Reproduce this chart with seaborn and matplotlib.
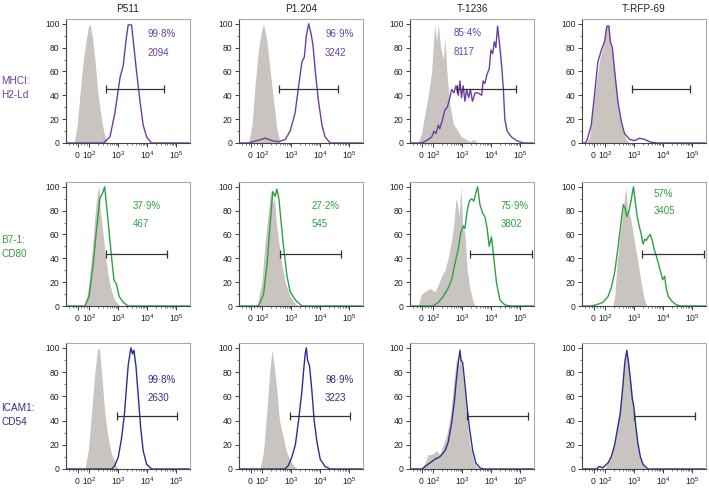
import numpy as np
import pandas as pd
import matplotlib
matplotlib.use("Agg")
import matplotlib.pyplot as plt
import matplotlib.transforms as mtransforms
from matplotlib import font_manager
import seaborn as sns

# ---- labels ----
samples = ["P511", "P1.204", "T-1236", "T-RFP-69"]
markers = ["MHCI:\nH2-Ld", "B7-1:\nCD80", "ICAM1:\nCD54"]
marker_colors = ["#6b3fa0", "#2f9f45", "#2d2f8c"]
iso_color = "#c9c4bf"

# x axis in logicle display units (decades); "0" sits just left of 10^2
tick_pos = [1.61, 2, 3, 4, 5]
tick_labels = ["0", r"$\mathregular{10^2}$", r"$\mathregular{10^3}$",
               r"$\mathregular{10^4}$", r"$\mathregular{10^5}$"]

# ---- histograms: (display position, % of max) ----
# MHCI: H2-Ld
mhc_p511_iso = [(1.47, 0), (1.58, 15), (1.67, 40), (1.79, 70), (1.88, 85), (1.96, 97), (2.02, 100),
                (2.11, 88), (2.19, 70), (2.28, 45), (2.36, 30), (2.45, 15), (2.54, 5), (2.62, 0)]
mhc_p511_stain = [(1.2, 0), (2.48, 0), (2.71, 5), (2.88, 25), (3.06, 55), (3.17, 65), (3.26, 85), (3.34, 99),
                  (3.46, 99), (3.52, 85), (3.63, 60), (3.75, 35), (3.86, 15), (3.98, 5), (4.15, 0), (5.45, 0)]
mhc_p1204_iso = [(1.52, 0), (1.64, 15), (1.75, 50), (1.87, 80), (1.98, 95), (2.04, 100), (2.16, 85),
                 (2.27, 60), (2.39, 35), (2.50, 12), (2.62, 0)]
mhc_p1204_stain = [(1.2, 0), (1.52, 0), (1.81, 2), (2.10, 4), (2.33, 2), (2.56, 1), (2.79, 3), (2.96, 10),
                   (3.13, 25), (3.31, 58), (3.37, 68), (3.45, 72), (3.52, 90), (3.60, 100), (3.68, 92),
                   (3.75, 82), (3.83, 60), (3.94, 35), (4.06, 15), (4.17, 5), (4.35, 0), (5.45, 0)]
mhc_t1236_iso = [(1.47, 0), (1.59, 8), (1.71, 25), (1.82, 40), (1.94, 60), (2.0, 85), (2.05, 100), (2.11, 85),
                 (2.17, 100), (2.25, 80), (2.34, 70), (2.40, 88), (2.48, 55), (2.57, 32), (2.69, 16),
                 (2.80, 12), (2.97, 5), (3.15, 3), (3.26, 1), (3.38, 3), (3.55, 0)]
mhc_t1236_stain = [(1.2, 0), (1.59, 0), (1.76, 2), (1.94, 5), (2.02, 10), (2.09, 8), (2.17, 15), (2.22, 12),
                   (2.32, 20), (2.40, 28), (2.48, 30), (2.57, 38), (2.63, 45), (2.71, 42), (2.78, 48),
                   (2.86, 40), (2.92, 52), (2.97, 38), (3.03, 48), (3.09, 35), (3.15, 45), (3.22, 38),
                   (3.28, 45), (3.35, 35), (3.44, 42), (3.55, 42), (3.67, 40), (3.72, 52), (3.78, 50),
                   (3.86, 58), (3.93, 62), (3.99, 78), (4.05, 75), (4.11, 85), (4.16, 80), (4.22, 98),
                   (4.28, 85), (4.36, 65), (4.42, 45), (4.47, 20), (4.55, 10), (4.70, 5), (4.88, 2),
                   (5.11, 0), (5.45, 0)]
mhc_trfp_iso = [(1.34, 0), (1.45, 5), (1.62, 40), (1.80, 70), (1.91, 80), (2.03, 98), (2.12, 100),
                (2.20, 80), (2.28, 70), (2.37, 50), (2.49, 25), (2.61, 10), (2.72, 3), (2.84, 0)]
mhc_trfp_stain = [(1.2, 0), (1.30, 0), (1.36, 2), (1.51, 15), (1.62, 40), (1.74, 68), (1.86, 78), (1.97, 85),
                  (2.05, 98), (2.12, 98), (2.17, 85), (2.24, 80), (2.32, 60), (2.43, 35), (2.55, 18),
                  (2.66, 8), (2.84, 3), (3.01, 2), (3.18, 4), (3.36, 3), (3.53, 1), (3.76, 0), (5.45, 0)]

# B7-1: CD80
cd80_p511_iso = [(1.84, 0), (1.96, 15), (2.07, 40), (2.19, 75), (2.27, 95), (2.33, 100), (2.38, 80),
                 (2.44, 68), (2.54, 45), (2.65, 25), (2.77, 12), (2.88, 5), (3.06, 0)]
cd80_p511_stain = [(1.2, 0), (1.84, 0), (1.99, 8), (2.13, 35), (2.25, 65), (2.36, 90), (2.46, 95), (2.53, 100),
                   (2.59, 85), (2.69, 60), (2.77, 40), (2.85, 22), (2.94, 18), (3.03, 8), (3.17, 3),
                   (3.34, 0), (5.45, 0)]
cd80_p1204_iso = [(1.81, 0), (1.98, 20), (2.10, 55), (2.21, 80), (2.29, 98), (2.36, 85), (2.41, 92),
                  (2.48, 70), (2.56, 55), (2.67, 35), (2.79, 20), (2.96, 8), (3.14, 2), (3.25, 0)]
cd80_p1204_stain = [(1.2, 0), (1.87, 0), (2.04, 10), (2.16, 35), (2.27, 70), (2.36, 96), (2.44, 92),
                    (2.50, 98), (2.57, 90), (2.64, 72), (2.73, 50), (2.85, 25), (2.96, 12), (3.14, 5),
                    (3.37, 0), (5.45, 0)]
cd80_t1236_iso = [(1.47, 0), (1.59, 10), (1.71, 12), (1.88, 15), (2.05, 12), (2.17, 18), (2.28, 25),
                  (2.40, 30), (2.51, 40), (2.63, 55), (2.71, 70), (2.78, 90), (2.84, 85), (2.89, 75),
                  (2.95, 100), (3.01, 70), (3.09, 60), (3.17, 30), (3.26, 15), (3.36, 5), (3.44, 0)]
cd80_t1236_stain = [(1.2, 0), (1.99, 0), (2.17, 3), (2.34, 8), (2.51, 15), (2.63, 22), (2.74, 35), (2.86, 48),
                    (2.95, 62), (3.03, 67), (3.09, 65), (3.17, 80), (3.24, 88), (3.32, 90), (3.40, 88),
                    (3.47, 95), (3.53, 100), (3.61, 85), (3.70, 78), (3.78, 75), (3.86, 65), (3.93, 50),
                    (4.01, 58), (4.09, 40), (4.18, 20), (4.30, 5), (4.47, 1), (4.65, 0), (5.45, 0)]
cd80_trfp_iso = [(2.26, 0), (2.33, 10), (2.40, 35), (2.51, 60), (2.63, 85), (2.71, 100), (2.76, 82),
                 (2.81, 78), (2.86, 75), (2.95, 62), (3.03, 50), (3.12, 38), (3.20, 25), (3.32, 8), (3.43, 0)]
cd80_trfp_stain = [(1.2, 0), (1.50, 0), (1.68, 1), (1.91, 3), (2.09, 8), (2.20, 15), (2.32, 28), (2.43, 48),
                   (2.55, 72), (2.62, 85), (2.68, 82), (2.74, 75), (2.82, 80), (2.90, 90), (2.97, 100),
                   (3.03, 88), (3.10, 75), (3.16, 68), (3.24, 60), (3.30, 52), (3.36, 56), (3.42, 55),
                   (3.48, 58), (3.55, 60), (3.62, 55), (3.68, 48), (3.76, 42), (3.84, 35), (3.92, 28),
                   (3.98, 22), (4.05, 25), (4.10, 15), (4.18, 8), (4.30, 4), (4.45, 1), (4.62, 0), (5.45, 0)]

# ICAM1: CD54
cd54_p511_iso = [(1.84, 0), (1.96, 15), (2.07, 45), (2.19, 80), (2.28, 98), (2.34, 100), (2.42, 80),
                 (2.50, 55), (2.59, 35), (2.69, 20), (2.77, 12), (2.85, 8), (2.94, 2), (3.00, 0)]
cd54_p511_stain = [(1.2, 0), (2.77, 0), (2.88, 3), (3.00, 10), (3.11, 25), (3.21, 45), (3.29, 70), (3.34, 85),
                   (3.40, 95), (3.44, 100), (3.49, 95), (3.54, 98), (3.61, 85), (3.69, 60), (3.77, 35),
                   (3.86, 15), (3.98, 4), (4.15, 0), (5.45, 0)]
cd54_p1204_iso = [(1.92, 0), (2.04, 15), (2.16, 50), (2.25, 80), (2.33, 98), (2.41, 85), (2.50, 65),
                  (2.59, 40), (2.71, 28), (2.82, 15), (2.94, 8), (3.08, 3), (3.19, 0)]
cd54_p1204_stain = [(1.2, 0), (2.78, 0), (2.90, 3), (3.02, 10), (3.14, 20), (3.25, 40), (3.37, 65), (3.42, 80),
                    (3.48, 95), (3.52, 100), (3.56, 90), (3.63, 85), (3.71, 65), (3.79, 40), (3.89, 22),
                    (4.00, 8), (4.17, 2), (4.35, 0), (5.45, 0)]
cd54_t1236_iso = [(1.59, 0), (1.71, 5), (1.82, 12), (1.94, 12), (2.11, 15), (2.22, 12), (2.34, 20),
                  (2.46, 28), (2.57, 42), (2.66, 60), (2.74, 80), (2.80, 92), (2.86, 85), (2.94, 95),
                  (3.01, 80), (3.09, 60), (3.17, 40), (3.26, 20), (3.38, 8), (3.49, 2), (3.61, 0)]
cd54_t1236_stain = [(1.2, 0), (1.60, 0), (1.71, 2), (1.88, 5), (2.05, 8), (2.22, 10), (2.40, 15), (2.51, 22),
                    (2.63, 38), (2.72, 55), (2.80, 75), (2.86, 88), (2.92, 98), (2.95, 90), (3.01, 88),
                    (3.07, 75), (3.15, 55), (3.24, 35), (3.36, 15), (3.47, 5), (3.61, 1), (3.72, 0), (5.45, 0)]
cd54_trfp_iso = [(1.97, 0), (2.14, 8), (2.32, 20), (2.43, 40), (2.55, 60), (2.63, 80), (2.70, 95),
                 (2.74, 98), (2.81, 85), (2.89, 70), (2.97, 50), (3.04, 35), (3.12, 20), (3.21, 10),
                 (3.30, 4), (3.41, 0)]
cd54_trfp_stain = [(1.2, 0), (1.70, 0), (1.78, 2), (1.91, 1), (2.09, 5), (2.20, 10), (2.32, 20), (2.43, 35),
                   (2.51, 45), (2.61, 70), (2.67, 88), (2.74, 98), (2.80, 88), (2.86, 75), (2.93, 58),
                   (2.98, 52), (3.04, 38), (3.12, 22), (3.21, 10), (3.30, 4), (3.47, 0), (5.45, 0)]

iso_curves = [[mhc_p511_iso, mhc_p1204_iso, mhc_t1236_iso, mhc_trfp_iso],
              [cd80_p511_iso, cd80_p1204_iso, cd80_t1236_iso, cd80_trfp_iso],
              [cd54_p511_iso, cd54_p1204_iso, cd54_t1236_iso, cd54_trfp_iso]]
stain_curves = [[mhc_p511_stain, mhc_p1204_stain, mhc_t1236_stain, mhc_trfp_stain],
                [cd80_p511_stain, cd80_p1204_stain, cd80_t1236_stain, cd80_trfp_stain],
                [cd54_p511_stain, cd54_p1204_stain, cd54_t1236_stain, cd54_trfp_stain]]

# positive gates (start, end) and the stats printed in each panel
gates = [[(2.56, 4.58), (2.59, 4.61), (2.80, 4.86), (2.93, 4.94)],
         [(2.57, 4.69), (2.62, 4.73), (3.26, 5.40), (3.27, 5.40)],
         [(2.94, 5.04), (2.94, 5.04), (3.17, 5.28), (2.99, 5.09)]]
pct_positive = [["99·8%", "96·9%", "85·4%", None],
                ["37·9%", "27·2%", "75·9%", "57%"],
                ["99·8%", "98·9%", None, None]]
mfi = [["2094", "3242", "8117", None],
       ["467", "545", "3802", "3405"],
       ["2630", "3223", None, None]]

# ---- layout (pixels of the 709x488 canvas) ----
W, H = 709, 488
col_left = [66, 239, 410, 582]
row_top = [19, 182, 343]
row_bot = [143, 306, 469]
row_label_y = [88, 247, 415]
gate_y = [45, 43.7, 43.7]
text_pos = [[(4.01, 91.6, 75.6), (4.17, 91.6, 75.6), (2.71, 92, 76), None],
            [(3.49, 84, 69), (3.71, 84, 69), (4.32, 84, 69), (3.67, 94, 79.4)],
            [(4.01, 73.5, 59), (4.17, 73.5, 59), None, None]]

sns.set_theme(style="white")
# axis numbers and row labels use a narrow face, the stats a regular one
installed = {f.name for f in font_manager.fontManager.ttflist}
narrow = "Liberation Sans Narrow" if "Liberation Sans Narrow" in installed else "Liberation Sans"
regular = ["Liberation Sans", "DejaVu Sans"]
plt.rcParams["font.family"] = [narrow, "DejaVu Sans"]
plt.rcParams["mathtext.fontset"] = "custom"
plt.rcParams["mathtext.rm"] = narrow
tick_size = 6.8 if narrow != "Liberation Sans" else 6.2

fig = plt.figure(figsize=(W / 100, H / 100), dpi=100)
minor_x = [np.log10(k * 10 ** n) for n in range(2, 5) for k in range(2, 10)] + [1.3, 1.42, 1.52, 1.72, 1.82, 1.92]
# drop the plain "0" label to the baseline of the 10^n labels
zero_shift = mtransforms.ScaledTranslation(-1 / 72, -1.2 / 72, fig.dpi_scale_trans)

for r in range(3):
    color = marker_colors[r]
    for c in range(4):
        ax = fig.add_axes([col_left[c] / W, 1 - row_bot[r] / H, 124 / W,
                           (row_bot[r] - row_top[r]) / H])
        iso = pd.DataFrame(iso_curves[r][c], columns=["pos", "count"])
        stain = pd.DataFrame(stain_curves[r][c], columns=["pos", "count"])
        ax.fill_between(iso["pos"], iso["count"], color=iso_color, lw=0, zorder=1)
        sns.lineplot(data=stain, x="pos", y="count", ax=ax, color=color, lw=1.0,
                     sort=False, estimator=None, zorder=2)
        g0, g1 = gates[r][c]
        ax.plot([g0, g1], [gate_y[r], gate_y[r]], color="#333333", lw=0.9,
                marker="|", ms=6, mew=0.9, zorder=3)
        if text_pos[r][c] is not None:
            tx, ty1, ty2 = text_pos[r][c]
            ax.text(tx, ty1, pct_positive[r][c], color=color, fontsize=7, family=regular,
                    ha="left", va="center")
            ax.text(tx, ty2, mfi[r][c], color=color, fontsize=7, family=regular,
                    ha="left", va="center")

        ax.set_xlim(1.19, 5.48)
        ax.set_ylim(0, 104)
        ax.set_xlabel("")
        ax.set_ylabel("")
        ax.set_xticks(tick_pos)
        ax.set_xticklabels(tick_labels)
        ax.set_xticks(minor_x, minor=True)
        ax.set_yticks(range(0, 101, 20))
        ax.set_yticks(range(10, 101, 20), minor=True)
        ax.tick_params(which="major", direction="out", length=3, width=0.6,
                       labelsize=tick_size, pad=1.5, colors="#222222", bottom=True, left=True)
        ax.tick_params(which="minor", direction="out", length=1.5, width=0.5,
                       colors="#444444", bottom=True, left=True)
        zero_lab = ax.get_xticklabels()[0]
        zero_lab.set_transform(zero_lab.get_transform() + zero_shift)
        for side in ["left", "bottom"]:
            ax.spines[side].set_color("#444444")
            ax.spines[side].set_linewidth(0.8)
        for side in ["top", "right"]:
            ax.spines[side].set_color("#aaaaaa")
            ax.spines[side].set_linewidth(0.8)

        if r == 0:
            ax.set_title(samples[c], fontsize=7.2, pad=5, color="#222222", family=regular)
        if c == 0:
            fig.text(1 / W, 1 - row_label_y[r] / H, markers[r], color=color,
                     fontsize=7.2, ha="left", va="center", linespacing=1.4)

fig.savefig("out.png", dpi=100)
